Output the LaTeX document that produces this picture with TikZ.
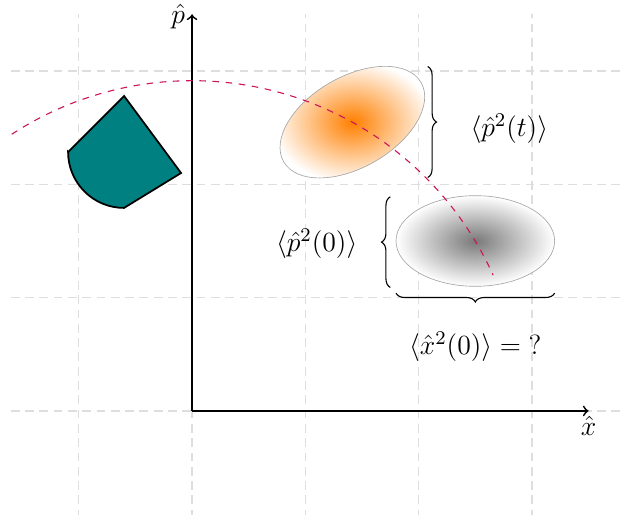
\RequirePackage{fix-cm}
\documentclass[tikz,border=0pt]{standalone}
\usetikzlibrary{shapes.geometric,decorations.pathreplacing}
\definecolor{curvecol}{RGB}{205,20,90}
\definecolor{gridcol}{RGB}{222,222,222}
\definecolor{wedgecol}{RGB}{0,128,128}
\begin{document}
\begin{tikzpicture}[x=1.81cm,y=1.81cm,
  every node/.style={font=\fontsize{12.6}{15}\selectfont},
  gridline/.style={gridcol, line width=0.6pt, dash pattern=on 4pt off 2.5pt},
  axisline/.style={thick, ->},
  blob/.style={ellipse, draw=gray!70, line width=0.3pt, minimum width=2.534cm, minimum height=1.448cm, inner sep=0pt},
  bracey/.style={decorate, decoration={brace, amplitude=4pt}, line width=0.5pt},
  wedge/.style={draw=black, thick, fill=wedgecol, line join=miter},
  traj/.style={curvecol, line width=0.5pt, dashed}]
\useasboundingbox (-1.695,-0.918) rectangle (3.830,3.627);
% grid
\foreach \gx in {-1,0,1,2,3} \draw[gridline] (\gx,-0.95) -- (\gx,3.5);
\foreach \gy in {0,1,2,3} \draw[gridline] (-1.6,\gy) -- (3.9,\gy);
% axes
\coordinate (O) at (0,0);
\coordinate (xend) at (3.5,0);
\coordinate (yend) at (0,3.5);
\draw[axisline] (O) -- (xend);
\draw[axisline] (O) -- (yend);
\node[below, inner sep=2pt] (xl) at (xend) {$\hat{x}$};
\node[left, inner sep=3pt] (yl) at (0,3.48) {$\hat{p}$};
% ellipses
\node[blob, shade, inner color=gray!95!black, outer color=white] (g0) at (2.5,1.5) {};
\node[blob, shade, inner color=orange, outer color=white, rotate=30] (g1) at (1.415,2.549) {};
% trajectory
\draw[traj] (123.1:2.915) arc[start angle=123.1, end angle=24.3, radius=2.915];
% wedge
\coordinate (wl) at (-1.094,2.286);
\coordinate (wt) at (-0.600,2.780);
\coordinate (wr) at (-0.097,2.100);
\coordinate (wb) at (-0.600,1.792);
\draw[wedge] (wl) -- (wt) -- (wr) -- (wb) arc[start angle=270, end angle=180, radius=0.494] -- cycle;
% braces
\coordinate (b1a) at (2.08,3.04);
\coordinate (b1b) at (2.08,2.06);
\draw[bracey] (b1a) -- (b1b);
\coordinate (b2a) at (1.75,1.09);
\coordinate (b2b) at (1.75,1.89);
\draw[bracey] (b2a) -- (b2b);
\coordinate (b3a) at (3.2,1.04);
\coordinate (b3b) at (1.8,1.04);
\draw[bracey] (b3a) -- (b3b);
% labels
\node (lpt) at (2.80,2.49) {$\langle\hat{p}^2(t)\rangle$};
\node (lp0) at (1.10,1.48) {$\langle\hat{p}^2(0)\rangle$};
\node (lx0) at (2.50,0.57) {$\langle\hat{x}^2(0)\rangle = \mathord{?}$};
\end{tikzpicture}
\end{document}
